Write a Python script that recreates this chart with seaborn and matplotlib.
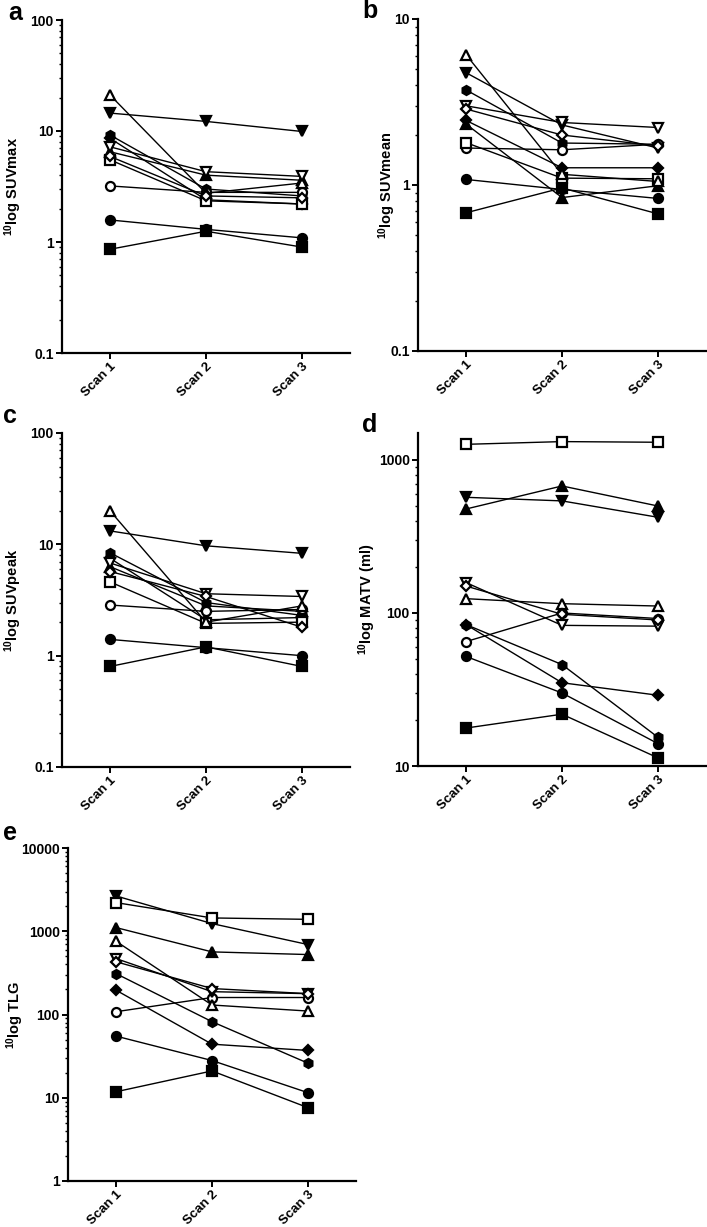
import numpy as np
import pandas as pd
import matplotlib
matplotlib.use("Agg")
import matplotlib.pyplot as plt
import seaborn as sns
from matplotlib.ticker import LogLocator, FuncFormatter, NullFormatter

scans = ["Scan 1", "Scan 2", "Scan 3"]

# marker per patient (filled True/False)
markers = ["s", "o", "o", "s", "^", "^", "v", "v", "D", "D", "h"]
filled = [True, True, False, False, True, False, True, False, True, False, True]

suvmax = [[0.86, 1.25, 0.9], [1.58, 1.3, 1.09], [3.2, 2.8, 2.8], [5.5, 2.35, 2.2],
          [6.5, 4.0, 3.6], [21.1, 2.75, 3.4], [14.5, 12.2, 9.9], [7.2, 4.3, 3.9],
          [8.6, 2.4, 2.2], [5.9, 2.6, 2.5], [9.2, 3.0, 2.6]]
suvmean = [[0.68, 0.96, 0.67], [1.08, 0.94, 0.83], [1.67, 1.63, 1.76], [1.8, 1.1, 1.09],
           [2.33, 0.84, 0.99], [6.1, 1.16, 1.05], [4.75, 2.3, 1.67], [3.0, 2.38, 2.22],
           [2.45, 1.27, 1.27], [2.87, 2.0, 1.72], [3.74, 1.79, 1.76]]
suvpeak = [[0.8, 1.2, 0.8], [1.4, 1.18, 1.0], [2.85, 2.5, 2.6], [4.6, 1.95, 2.0],
           [6.3, 2.8, 2.5], [20.0, 2.0, 2.8], [13.2, 9.7, 8.3], [6.8, 3.6, 3.4],
           [7.5, 2.1, 2.2], [5.7, 3.4, 1.8], [8.4, 3.0, 2.3]]
matv = [[17.7, 21.8, 11.3], [52, 30, 14], [65, 100, 92], [1265, 1318, 1305],
        [478, 676, 500], [124, 115, 111], [570, 540, 422], [158, 83, 82],
        [84, 35, 29], [150, 98, 90], [84, 46, 15.4]]
tlg = [[11.8, 21, 7.6], [55, 28, 11.5], [108, 160, 160], [2208, 1445, 1390],
       [1107, 565, 525], [759, 130, 110], [2655, 1236, 692], [470, 188, 178],
       [196, 44, 37], [430, 205, 178], [310, 82, 26]]

sns.set_style("ticks")
plt.rcParams["font.family"] = ["Liberation Sans", "DejaVu Sans"]
plt.rcParams["font.weight"] = "bold"
plt.rcParams["mathtext.default"] = "bf"
plt.rcParams["mathtext.fontset"] = "custom"
plt.rcParams["mathtext.bf"] = "Liberation Sans:bold"
for k in ["text.color", "axes.labelcolor", "xtick.color", "ytick.color", "axes.edgecolor"]:
    plt.rcParams[k] = "black"

W, H = 707, 1227
fig = plt.figure(figsize=(W / 100, H / 100), dpi=100)


def box(left, top, right, bottom):
    return [left / W, (H - bottom) / H, (right - left) / W, (bottom - top) / H]


panels = [
    ("a", suvmax, "SUVmax", (0.1, 100), [0.1, 1, 10, 100], box(62, 20, 350, 353), (8, 20), 49),
    ("b", suvmean, "SUVmean", (0.1, 10), [0.1, 1, 10], box(418, 19, 706, 351), (362, 18), 31),
    ("c", suvpeak, "SUVpeak", (0.1, 100), [0.1, 1, 10, 100], box(62, 433, 350, 767), (3, 423), 49),
    ("d", matv, "MATV (ml)", (10, 1500), [10, 100, 1000], box(418, 433, 706, 766), (362, 432), 51),
    ("e", tlg, "TLG", (1, 10000), [1, 10, 100, 1000, 10000], box(68, 848, 356, 1181), (3, 840), 53),
]

for letter, values, name, ylim, yticks, rect, lpos, lab_off in panels:
    ax = fig.add_axes(rect)
    for i, vals in enumerate(values):
        df = pd.DataFrame({"x": [0, 1, 2], "y": vals})
        sns.lineplot(data=df, x="x", y="y", ax=ax, color="black", linewidth=1.0,
                     marker=markers[i], markersize=6.5 if markers[i] != "D" else 5.5,
                     markerfacecolor="black" if filled[i] else "white",
                     markeredgecolor="black", markeredgewidth=1.6,
                     zorder=3 if filled[i] else 4)
    ax.set_yscale("log")
    ax.set_ylim(*ylim)
    ax.set_xlim(-0.5, 2.5)
    ax.set_yticks(yticks)
    ax.yaxis.set_major_formatter(FuncFormatter(lambda v, p: "%g" % v))
    ax.yaxis.set_minor_locator(LogLocator(base=10, subs=np.arange(2, 10), numticks=20))
    ax.yaxis.set_minor_formatter(NullFormatter())
    ax.set_xticks([0, 1, 2])
    ax.set_xticklabels(scans, rotation=45, ha="right", rotation_mode="anchor",
                       fontsize=9.5, fontweight="bold")
    for t in ax.get_yticklabels():
        t.set_fontsize(10)
        t.set_fontweight("bold")
    ax.set_xlabel("")
    ax.set_ylabel(r"$^{10}$log " + name, fontsize=10.5, fontweight="bold")
    ax.yaxis.label.set_va("center")
    ax.yaxis.label.set_ha("center")
    ax.yaxis.set_label_coords(-lab_off / 288, 0.5)
    sns.despine(ax=ax)
    for s in ["left", "bottom"]:
        ax.spines[s].set_linewidth(1.6)
    ax.tick_params(axis="both", which="major", width=1.4, length=4, pad=2)
    ax.tick_params(axis="x", which="major", pad=1.5)
    ax.tick_params(axis="y", which="minor", width=1.0, length=2.5)
    fig.text(lpos[0] / W, 1 - lpos[1] / H, letter, fontsize=18, fontweight="bold",
             va="baseline", ha="left")

fig.savefig("out.png", dpi=100)
